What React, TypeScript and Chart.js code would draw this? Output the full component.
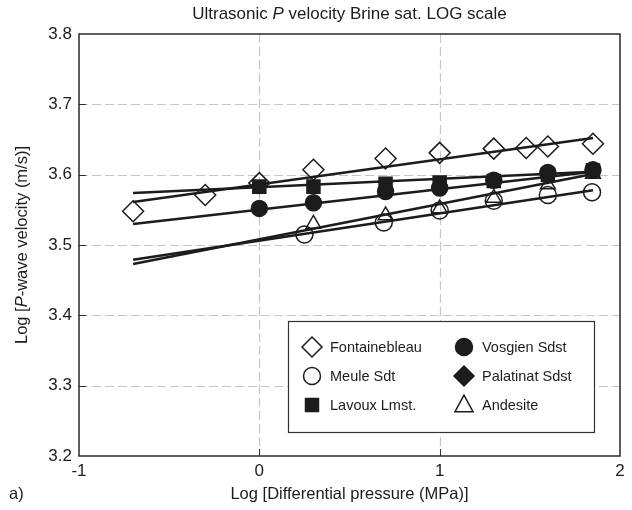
import React, { useEffect, useRef } from 'react';
import { Chart, registerables } from 'chart.js';

Chart.register(...registerables);

// ---- data ----
const xTicks = [-1, 0, 1, 2];
const yTicks = [3.2, 3.3, 3.4, 3.5, 3.6, 3.7, 3.8];

const fontX = [-0.7, -0.3, 0, 0.3, 0.7, 1.0, 1.3, 1.48, 1.6, 1.85];
const fontY = [3.548, 3.571, 3.588, 3.607, 3.623, 3.631, 3.637, 3.638, 3.64, 3.644];
const lavouxX = [0, 0.3, 0.7, 1.0, 1.3, 1.6, 1.85];
const lavouxY = [3.583, 3.583, 3.587, 3.589, 3.591, 3.6, 3.606];
const vosgienX = [0, 0.3, 0.7, 1.0, 1.3, 1.6, 1.85];
const vosgienY = [3.552, 3.56, 3.576, 3.581, 3.592, 3.603, 3.607];
const meuleX = [0.25, 0.69, 1.0, 1.3, 1.6, 1.845];
const meuleY = [3.515, 3.532, 3.549, 3.563, 3.571, 3.575];
const andesiteX = [0.3, 0.7, 1.0, 1.3, 1.6, 1.85];
const andesiteY = [3.53, 3.542, 3.552, 3.567, 3.586, 3.601];
const palatinatX: number[] = [];
const palatinatY: number[] = [];

const fitX = [-0.7, 1.85];
const fontFit = [3.561, 3.652];
const lavouxFit = [3.574, 3.604];
const vosgienFit = [3.53, 3.604];
const meuleFit = [3.479, 3.578];
const andesiteFit = [3.473, 3.601];

const legendLeft = ['Fontainebleau', 'Meule Sdt', 'Lavoux Lmst.'];
const legendRight = ['Vosgien Sdst', 'Palatinat Sdst', 'Andesite'];

const FONT = '"Liberation Sans", Arial, Helvetica, sans-serif';
const INK = '#1c1c1c';

const pts = (xs: number[], ys: number[]) => xs.map((x, i) => ({ x, y: ys[i] }));

function marker(ctx: CanvasRenderingContext2D, kind: string, x: number, y: number, r: number, filled: boolean) {
  ctx.save();
  ctx.beginPath();
  if (kind === 'diamond') {
    ctx.moveTo(x, y - r); ctx.lineTo(x + r, y); ctx.lineTo(x, y + r); ctx.lineTo(x - r, y); ctx.closePath();
  } else if (kind === 'circle') {
    ctx.arc(x, y, r, 0, Math.PI * 2);
  } else if (kind === 'square') {
    ctx.rect(x - r, y - r, 2 * r, 2 * r);
  } else if (kind === 'triangle') {
    ctx.moveTo(x, y - r * 1.1); ctx.lineTo(x + r, y + r * 0.75); ctx.lineTo(x - r, y + r * 0.75); ctx.closePath();
  }
  ctx.lineWidth = 1.5;
  ctx.strokeStyle = INK;
  if (filled) { ctx.fillStyle = INK; ctx.fill(); }
  ctx.stroke();
  ctx.restore();
}

function drawSegments(ctx: CanvasRenderingContext2D, segs: { t: string; italic?: boolean }[], cx: number, cy: number, size: number) {
  const fontOf = (it?: boolean) => `${it ? 'italic ' : ''}${size}px ${FONT}`;
  let total = 0;
  for (const s of segs) { ctx.font = fontOf(s.italic); total += ctx.measureText(s.t).width; }
  let x = cx - total / 2;
  ctx.textAlign = 'left';
  ctx.textBaseline = 'middle';
  for (const s of segs) {
    ctx.font = fontOf(s.italic);
    ctx.fillText(s.t, x, cy);
    x += ctx.measureText(s.t).width;
  }
}

const decor = {
  id: 'decor',
  beforeDatasetsDraw(chart: any) {
    const { ctx, chartArea: a, scales } = chart;
    ctx.save();
    ctx.strokeStyle = '#c6c6c6';
    ctx.lineWidth = 1.2;
    ctx.setLineDash([9, 4]);
    for (const v of xTicks.slice(1, -1)) {
      const px = Math.round(scales.x.getPixelForValue(v)) + 0.5;
      ctx.beginPath(); ctx.moveTo(px, a.top); ctx.lineTo(px, a.bottom); ctx.stroke();
    }
    for (const v of yTicks.slice(1, -1)) {
      const py = Math.round(scales.y.getPixelForValue(v)) + 0.5;
      ctx.beginPath(); ctx.moveTo(a.left, py); ctx.lineTo(a.right, py); ctx.stroke();
    }
    ctx.setLineDash([]);
    ctx.strokeStyle = '#333';
    ctx.lineWidth = 1;
    for (const v of xTicks.slice(1, -1)) {
      const px = Math.round(scales.x.getPixelForValue(v)) + 0.5;
      ctx.beginPath(); ctx.moveTo(px, a.bottom); ctx.lineTo(px, a.bottom - 7); ctx.stroke();
    }
    for (const v of yTicks.slice(1, -1)) {
      const py = Math.round(scales.y.getPixelForValue(v)) + 0.5;
      ctx.beginPath(); ctx.moveTo(a.left, py); ctx.lineTo(a.left + 7, py); ctx.stroke();
    }
    ctx.restore();
  },
  afterDraw(chart: any) {
    const { ctx, chartArea: a } = chart;
    ctx.save();
    // frame
    ctx.strokeStyle = '#2a2a2a';
    ctx.lineWidth = 1.5;
    ctx.strokeRect(a.left, a.top, a.right - a.left, a.bottom - a.top);
    ctx.fillStyle = INK;
    const cx = (a.left + a.right) / 2;
    // title
    drawSegments(ctx, [{ t: 'Ultrasonic ' }, { t: 'P', italic: true }, { t: ' velocity Brine sat. LOG scale' }], cx, 14, 17);
    // x title
    drawSegments(ctx, [{ t: 'Log [Differential pressure (MPa)]' }], cx, 494, 16.5);
    // panel label
    ctx.font = `16.5px ${FONT}`;
    ctx.textAlign = 'left';
    ctx.textBaseline = 'middle';
    ctx.fillText('a)', 9, 494);
    // y title
    ctx.save();
    ctx.translate(22, (a.top + a.bottom) / 2);
    ctx.rotate(-Math.PI / 2);
    drawSegments(ctx, [{ t: 'Log [' }, { t: 'P', italic: true }, { t: '-wave velocity (m/s)]' }], 0, 0, 16.5);
    ctx.restore();
    // legend
    const bx = 288, by = 321, bw = 306, bh = 111;
    ctx.fillStyle = '#fff';
    ctx.fillRect(bx, by, bw, bh);
    ctx.strokeStyle = '#333';
    ctx.lineWidth = 1.2;
    ctx.strokeRect(bx + 0.5, by + 0.5, bw, bh);
    const rows = [347, 376, 405];
    const leftKinds = [['diamond', false, 10], ['circle', false, 8.5], ['square', true, 6.5]] as const;
    const rightKinds = [['circle', true, 8.5], ['diamond', true, 10], ['triangle', false, 9]] as const;
    ctx.font = `14.5px ${FONT}`;
    for (let i = 0; i < 3; i++) {
      const [k1, f1, r1] = leftKinds[i];
      marker(ctx, k1, 312, rows[i], r1, f1);
      const [k2, f2, r2] = rightKinds[i];
      marker(ctx, k2, 464, rows[i], r2, f2);
      ctx.fillStyle = INK;
      ctx.font = `14.5px ${FONT}`;
      ctx.textAlign = 'left';
      ctx.textBaseline = 'middle';
      ctx.fillText(legendLeft[i], 330, rows[i] + 1);
      ctx.fillText(legendRight[i], 482, rows[i] + 1);
    }
    ctx.restore();
  },
};

export default function App() {
  const ref = useRef<HTMLCanvasElement>(null);
  useEffect(() => {
    if (!ref.current) return;
    const open = 'rgba(0,0,0,0)';
    const pointDs = (label: string, xs: number[], ys: number[], style: string, r: number, filled: boolean) => ({
      label,
      data: pts(xs, ys),
      showLine: false,
      pointStyle: style,
      pointRadius: r,
      pointBorderWidth: 1.5,
      pointBorderColor: INK,
      pointBackgroundColor: filled ? INK : open,
      borderColor: INK,
      backgroundColor: filled ? INK : open,
    });
    const fitDs = (label: string, ys: number[]) => ({
      label,
      data: pts(fitX, ys),
      showLine: true,
      pointRadius: 0,
      borderColor: INK,
      borderWidth: 2.5,
      fill: false,
    });
    const chart = new Chart(ref.current, {
      type: 'scatter',
      data: {
        datasets: [
          fitDs('Fontainebleau fit', fontFit),
          fitDs('Lavoux fit', lavouxFit),
          fitDs('Vosgien fit', vosgienFit),
          fitDs('Meule fit', meuleFit),
          fitDs('Andesite fit', andesiteFit),
          pointDs('Fontainebleau', fontX, fontY, 'rectRot', 10.5, false),
          pointDs('Vosgien Sdst', vosgienX, vosgienY, 'circle', 8, true),
          pointDs('Lavoux Lmst.', lavouxX, lavouxY, 'rect', 9.2, true),
          pointDs('Meule Sdt', meuleX, meuleY, 'circle', 8.5, false),
          pointDs('Palatinat Sdst', palatinatX, palatinatY, 'rectRot', 10, true),
          pointDs('Andesite', andesiteX, andesiteY, 'triangle', 8.5, false),
        ] as any,
      },
      options: {
        responsive: false,
        animation: false,
        devicePixelRatio: 1,
        layout: { padding: { top: 34, right: 12, left: 0, bottom: 0 } },
        plugins: { legend: { display: false }, title: { display: false }, tooltip: { enabled: false } },
        scales: {
          x: {
            type: 'linear',
            min: -1,
            max: 2,
            afterBuildTicks: (s: any) => { s.ticks = xTicks.map((v) => ({ value: v })); },
            afterFit: (s: any) => { s.height = 54; },
            grid: { display: false, drawTicks: false },
            border: { display: false },
            ticks: {
              padding: 5,
              color: INK,
              font: { family: FONT, size: 17 },
              callback: (v: any) => String(v),
              maxRotation: 0,
            },
          },
          y: {
            type: 'linear',
            min: 3.2,
            max: 3.8,
            afterBuildTicks: (s: any) => { s.ticks = yTicks.map((v) => ({ value: v })); },
            afterFit: (s: any) => { s.width = 79; },
            grid: { display: false, drawTicks: false },
            border: { display: false },
            ticks: {
              padding: 7,
              color: INK,
              font: { family: FONT, size: 17 },
              callback: (v: any) => Number(v).toFixed(1),
            },
          },
        },
      },
      plugins: [decor],
    } as any);
    return () => chart.destroy();
  }, []);
  return (
    <div style={{ position: 'fixed', left: 0, top: 0, width: 632, height: 510, background: '#fff' }}>
      <canvas ref={ref} width={632} height={510} style={{ display: 'block', width: 632, height: 510 }} />
    </div>
  );
}
